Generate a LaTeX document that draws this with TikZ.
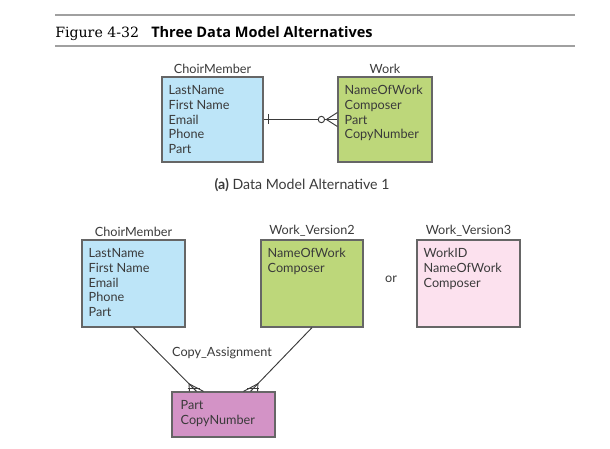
\documentclass[tikz,border=0pt]{standalone}
\usepackage{fontspec}
\setmainfont{Lato}
\newfontfamily\figfont{DejaVu Serif}
\newfontfamily\headfont{Open Sans}
\usepackage{tikz}
\usetikzlibrary{positioning, fit, calc}
\definecolor{cmblue}{HTML}{BDE5F8}
\definecolor{workgreen}{HTML}{BDD77A}
\definecolor{verpink}{HTML}{FCE1EE}
\definecolor{copymag}{HTML}{D393C6}
\definecolor{boxline}{HTML}{666666}
\definecolor{inkgray}{HTML}{3A3A3A}
\definecolor{rulegray}{HTML}{A0A0A0}

\begin{document}
\begin{tikzpicture}[
    x=0.75pt, y=-0.75pt,
    entity/.style={rectangle, draw=boxline, line width=0.9pt, inner sep=0pt},
    ename/.style={above=1pt of #1, font=\fontsize{9.5}{11}\selectfont, text=inkgray, inner sep=1pt},
    attrs/.style={anchor=north west, align=left, font=\fontsize{9.5}{11}\selectfont, text=inkgray, inner sep=0pt},
    rel/.style={draw=inkgray, line width=0.7pt},
]
\useasboundingbox (0,0) rectangle (610,449);

% figure heading
\coordinate (rtl) at (55,15);
\coordinate (rtr) at (575,15);
\coordinate (rbl) at (55,46);
\coordinate (rbr) at (575,46);
\draw[rulegray, line width=0.8pt] (rtl) -- (rtr);
\draw[rulegray, line width=0.8pt] (rbl) -- (rbr);
\node[anchor=base west, inner sep=0pt, font=\figfont\fontsize{10.6}{12}\selectfont] (fignum) at (55,38) {Figure 4-32};
\node[inner sep=0pt, font=\headfont\bfseries\fontsize{10.9}{12}\selectfont, anchor=base west] (figtitle) at (151,38) {Three Data Model Alternatives};

% (a) alternative 1
\node[entity, fill=cmblue, fit={(162,77) (263,162)}] (cm1) {};
\node[ename=cm1.north] {ChoirMember};
\node[attrs] at ($(cm1.north west)+(7,9)$) {LastName\\First Name\\Email\\Phone\\Part};

\node[entity, fill=workgreen, fit={(338,77) (432,162)}] (wk1) {};
\node[ename=wk1.north] {Work};
\node[attrs] at ($(wk1.north west)+(7,9)$) {NameOfWork\\Composer\\Part\\CopyNumber};

\draw[rel] (cm1.east) -- (wk1.west);
\draw[rel] ($(cm1.east)+(5,-5)$) -- ($(cm1.east)+(5,5)$);
\draw[rel, fill=white] ($(wk1.west)+(-16,0)$) circle (2.4pt);
\draw[rel] ($(wk1.west)+(-11,0)$) -- ($(wk1.west)+(0,-7)$);
\draw[rel] ($(wk1.west)+(-11,0)$) -- ($(wk1.west)+(0,7)$);

\node[font=\fontsize{10.6}{12}\selectfont, text=inkgray] (capa) at (302,185) {\textbf{(a)} Data Model Alternative 1};

% alternatives 2 and 3
\node[entity, fill=cmblue, fit={(82,240) (185,327)}] (cm2) {};
\node[ename=cm2.north] {ChoirMember};
\node[attrs] at ($(cm2.north west)+(7,9)$) {LastName\\First Name\\Email\\Phone\\Part};

\node[entity, fill=workgreen, fit={(261,240) (363,327)}] (wv2) {};
\node[ename=wv2.north] {Work\_Version2};
\node[attrs] at ($(wv2.north west)+(7,9)$) {NameOfWork\\Composer};

\node[font=\fontsize{9.5}{11}\selectfont, text=inkgray] (ortext) at (391,279) {or};

\node[entity, fill=verpink, fit={(417,240) (520,327)}] (wv3) {};
\node[ename=wv3.north] {Work\_Version3};
\node[attrs] at ($(wv3.north west)+(7,9)$) {WorkID\\NameOfWork\\Composer};

\node[entity, fill=copymag, fit={(172,392) (275,437)}] (ca) {};
\node[attrs] at ($(ca.north west)+(9,9)$) {Part\\CopyNumber};

% Copy_Assignment links
\coordinate (pl) at ($(ca.north)+(-27,0)$);
\coordinate (pr) at ($(ca.north)+(27,0)$);
\draw[rel] (cm2.south) -- (pl);
\draw[rel] (wv2.south) -- (pr);
\coordinate (fl) at ($(pl)!8pt!(cm2.south)$);
\coordinate (fr) at ($(pr)!8pt!(wv2.south)$);
\draw[rel] ($(pl)+(-7,0)$) -- (fl) -- ($(pl)+(7,0)$);
\draw[rel] ($(pr)+(-7,0)$) -- (fr) -- ($(pr)+(7,0)$);
\coordinate (bl) at ($(pl)!3pt!(cm2.south)$);
\coordinate (br) at ($(pr)!3pt!(wv2.south)$);
\draw[rel] ($(bl)+(-6,0)$) -- ($(bl)+(6,0)$);
\draw[rel] ($(br)+(-6,0)$) -- ($(br)+(6,0)$);

\node[font=\fontsize{9.5}{11}\selectfont, text=inkgray, fill=white, inner sep=1pt] (relname) at (222,353) {Copy\_Assignment};

\end{tikzpicture}
\end{document}
